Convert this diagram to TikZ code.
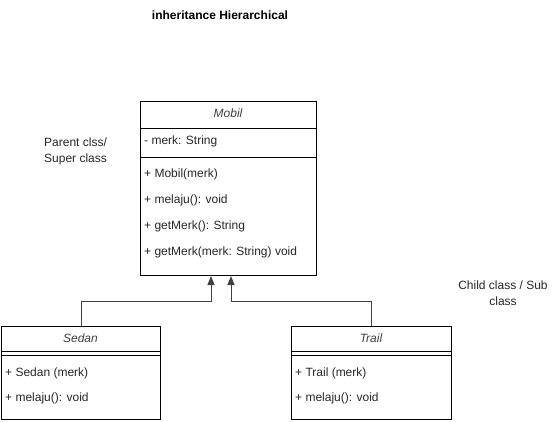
\documentclass[tikz,border=0pt]{standalone}
\usepackage{fontspec}
\setmainfont{Liberation Sans}
\usetikzlibrary{arrows.meta}
\begin{document}
\begin{tikzpicture}[x=1pt,y=-1pt,
  every node/.style={font=\fontsize{12}{16}\selectfont, text=black!85, inner sep=0pt},
  box/.style={draw=black, line width=1pt, anchor=north west, inner sep=0pt},
  member/.style={anchor=west, text height=9pt, text depth=3pt},
  cname/.style={font=\fontsize{12}{16}\selectfont\itshape, text=black!75, text height=9pt, text depth=3pt},
  sep/.style={draw=black, line width=1pt},
  conn/.style={draw=black!75, line width=1pt, -{Triangle[length=9pt,width=7pt]}},
  lbl/.style={align=center}]
\useasboundingbox (0,0) rectangle (554,421);

% title
\node[font=\fontsize{12}{16}\selectfont\bfseries, text=black] (title) at (220,15) {inheritance Hierarchical};

% Mobil
\node[box, minimum width=176pt, minimum height=174pt] (mobil) at (140,101) {};
\draw[sep] ([yshift=-27pt]mobil.north west) -- ([yshift=-27pt]mobil.north east);
\draw[sep] ([yshift=-56pt]mobil.north west) -- ([yshift=-56pt]mobil.north east);
\node[cname] (mobilname) at (228,114) {Mobil};
\node[member] (m1) at (144,141) {- merk: String};
\node[member] (m2) at (144,174) {+ Mobil(merk)};
\node[member] (m3) at (144,200) {+ melaju(): void};
\node[member] (m4) at (144,226) {+ getMerk(): String};
\node[member] (m5) at (144,252) {+ getMerk(merk: String) void};

% Sedan
\node[box, minimum width=159pt, minimum height=93pt] (sedan) at (1,326) {};
\draw[sep] ([yshift=-25pt]sedan.north west) -- ([yshift=-25pt]sedan.north east);
\draw[sep] ([yshift=-29pt]sedan.north west) -- ([yshift=-29pt]sedan.north east);
\node[cname] (sedanname) at (80.5,339) {Sedan};
\node[member] (s1) at (5,373) {+ Sedan (merk)};
\node[member] (s2) at (5,398) {+ melaju(): void};

% Trail
\node[box, minimum width=160pt, minimum height=93pt] (trail) at (291,326) {};
\draw[sep] ([yshift=-25pt]trail.north west) -- ([yshift=-25pt]trail.north east);
\draw[sep] ([yshift=-29pt]trail.north west) -- ([yshift=-29pt]trail.north east);
\node[cname] (trailname) at (371,339) {Trail};
\node[member] (t1) at (295,373) {+ Trail (merk)};
\node[member] (t2) at (295,398) {+ melaju(): void};

% connectors
\draw[conn] (sedan.north) -- ++(0,-25) -| ([xshift=71pt]mobil.south west);
\draw[conn] (trail.north) -- ++(0,-25) -| ([xshift=91pt]mobil.south west);

% labels
\node[align=left, anchor=west] (parent) at (44,151) {Parent clss/\\Super class};
\node[lbl] (child) at (503,293.5) {Child class / Sub\\class};
\end{tikzpicture}
\end{document}
